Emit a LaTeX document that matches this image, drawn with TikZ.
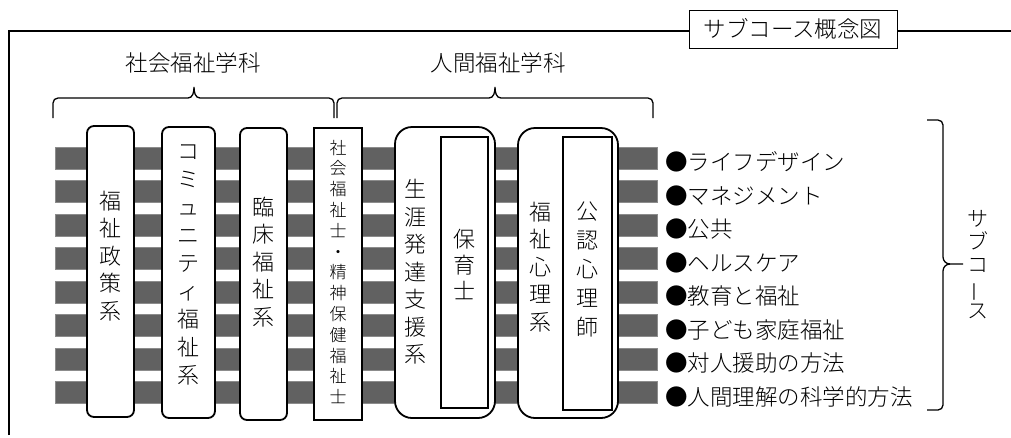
\documentclass[tikz,border=0pt]{standalone}
\usepackage{fontspec}
\IfFontExistsTF{Noto Sans CJK JP Light}
  {\setmainfont{Noto Sans CJK JP Light}}
  {\setmainfont{Noto Sans CJK JP}}
\usepackage{graphicx}
\usepackage{tikz}
\usetikzlibrary{positioning}
\tikzset{
x=1pt, y=-1pt, % one unit is one pixel of the sketch, y going down
bar/.style={fill=black!62, draw=black!45, line width=0.6pt}, % the gray subcourse bands
kei/.style={draw, fill=white, line width=1.8pt, rounded corners=7pt, inner sep=0pt},
sikaku/.style={draw, fill=white, line width=1.8pt, inner sep=0pt},
oval/.style={draw, fill=white, line width=1.8pt, rounded corners=17pt, inner sep=0pt},
tate/.style={align=center, inner sep=0pt, font=\fontsize{22}{27.5}\selectfont}, % one character a line
yoko/.style={inner sep=0pt, font=\fontsize{22.5}{27}\selectfont},
brace/.style={line width=1.3pt},
}

\begin{document}
\begin{tikzpicture}
  \useasboundingbox (0,0) rectangle (1011,437);
  \draw[line width=1.3pt] (9,435) -- (9,31) -- (1011,31);
  \node[yoko, draw, fill=white, line width=1pt, minimum width=208pt, minimum height=38pt]
    (gainen) at (793,29) {サブコース概念図};

  \node[yoko] (shakai) at (193,63) {社会福祉学科};
  \node[yoko] (ningen) at (498,63) {人間福祉学科};
  \draw[brace] (53,118) -- (53,103) to[out=90,in=180] (58,98) -- (188,98)
    to[out=0,in=-90] (194,87) to[out=-90,in=180] (200,98) -- (329,98)
    to[out=0,in=90] (334,103) -- (334,118);
  \draw[brace] (337,118) -- (337,103) to[out=90,in=180] (342,98) -- (489,98)
    to[out=0,in=-90] (495,87) to[out=-90,in=180] (501,98) -- (648,98)
    to[out=0,in=90] (653,103) -- (653,118);

  \foreach \i in {0,...,7}
    \path[bar] (55,{147+33.5*\i}) rectangle (657,{169+33.5*\i});

  \node[kei, minimum width=47pt, minimum height=291pt] (seisaku) at (110.5,271.5) {};
  \node[kei, minimum width=53pt, minimum height=291pt] (community) at (188.5,272.5) {};
  \node[kei, minimum width=47pt, minimum height=292pt] (rinsho) at (263.5,274) {};
  \node[sikaku, minimum width=48pt, minimum height=292pt] (shikaku) at (338,274) {};
  \node[oval, minimum width=100pt, minimum height=291pt] (shogai) at (445,272.5) {};
  \node[sikaku, minimum width=47pt, minimum height=271pt] (hoiku) at (464.5,272.5) {};
  \node[oval, minimum width=100pt, minimum height=290pt] (shinri) at (568,273) {};
  \node[sikaku, minimum width=49pt, minimum height=273pt] (kounin) at (587.5,273.5) {};

  \node[tate] (t-seisaku) at (110.5,256) {福\\祉\\政\\策\\系};
  \node[tate, font=\fontsize{22}{28}\selectfont] (t-community) at (188.5,265)
    {コ\\ミ\\ュ\\ニ\\テ\\ィ\\福\\祉\\系};
  \node[tate] (t-rinsho) at (263.5,262) {臨\\床\\福\\祉\\系};
  \node[tate, font=\fontsize{17}{20.8}\selectfont] (t-shikaku) at (338,272)
    {社\\会\\福\\祉\\士\\・\\精\\神\\保\\健\\福\\祉\\士};
  \node[tate] (t-shogai) at (415,272) {生\\涯\\発\\達\\支\\援\\系};
  \node[tate, font=\fontsize{22}{26}\selectfont] (t-hoiku) at (464.5,264) {保\\育\\士};
  \node[tate] (t-shinri) at (540,267) {福\\祉\\心\\理\\系};
  \node[tate, font=\fontsize{22}{29}\selectfont] (t-kounin) at (587.5,269) {公\\認\\心\\理\\師};

  \foreach \name [count=\i from 0] in {ライフデザイン, マネジメント, 公共, ヘルスケア,
      教育と福祉, 子ども家庭福祉, 対人援助の方法, 人間理解の科学的方法}
    \node[yoko, anchor=west] (sub\i) at (665,{162+33.5*\i}) {●\name};

  \coordinate (subtip) at (963,264);
  \draw[brace] (927,120) -- (938,120) to[out=0,in=90] (943,125) -- (943,257)
    to[out=-90,in=180] (950,264) -- (subtip);
  \draw[brace] (927,410) -- (938,410) to[out=0,in=-90] (943,405) -- (943,271)
    to[out=90,in=180] (950,264);
  \node[tate, font=\fontsize{21}{23}\selectfont] (subcourse) at (978,265)
    {サ\\ブ\\コ\\\rotatebox[origin=c]{90}{ー}\\ス};
\end{tikzpicture}
\end{document}
